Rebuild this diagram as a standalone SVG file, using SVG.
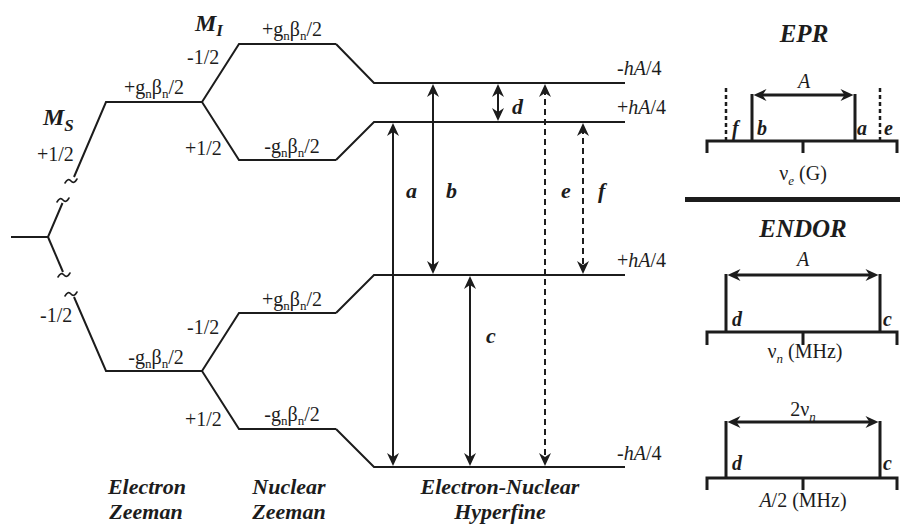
<svg xmlns="http://www.w3.org/2000/svg" width="905" height="526" viewBox="0 0 905 526" font-family="'Liberation Serif','Times New Roman',Tinos,'DejaVu Serif','Noto Serif',serif">
<style>
.ln{fill:none;stroke:#1c1c1c;stroke-width:2;stroke-linejoin:miter}
.tl{fill:none;stroke:#1c1c1c;stroke-width:1.6;stroke-linecap:round}
.ar{fill:none;stroke:#1c1c1c;stroke-width:2}
.dash{stroke-dasharray:6 4}
.sp{fill:none;stroke:#1c1c1c;stroke-width:3;stroke-linejoin:miter}
.dot{fill:none;stroke:#1c1c1c;stroke-width:2.5;stroke-dasharray:4 3}
text{font-family:'Liberation Serif','Times New Roman',Tinos,'DejaVu Serif','Noto Serif',serif;fill:#1c1c1c}
.r{font-size:20px}
.bi{font-weight:bold;font-style:italic}
.big{font-size:25px}
.cap{font-size:22px}
.lab{font-size:22px}
.sl{font-size:20px}
.it{font-style:italic}
.mid{text-anchor:middle}
</style>
<defs>
<marker id="ah" viewBox="-14 -7 15 14" refX="-5" refY="0" markerWidth="15" markerHeight="14" markerUnits="userSpaceOnUse" orient="auto-start-reverse">
<path d="M0,0 L-13,-6 L-9,0 L-13,6 Z" fill="#1c1c1c"/>
</marker>
<path id="tilde" d="M-6,2 Q-3,-3.5 0,0 T6,-2"/>
</defs>

<g id="electron-zeeman">
<path class="ln" d="M11,237 H48 L62.5,203"/>
<path class="ln" d="M74,177 L106,102 H202"/>
<path class="ln" d="M48,237 L63,272"/>
<path class="ln" d="M74,297 L106,371 H202"/>
<use href="#tilde" class="tl" x="71" y="181"/>
<use href="#tilde" class="tl" x="63" y="200"/>
<use href="#tilde" class="tl" x="64" y="275"/>
<use href="#tilde" class="tl" x="71" y="294"/>
<text class="bi" x="43" y="125" font-size="24">M<tspan dy="6" font-size="17">S</tspan></text>
<text class="r" x="37" y="161">+1/2</text>
<text class="r" x="40" y="322">-1/2</text>
<text class="r mid" x="154" y="94">+g<tspan dy="4" font-size="13">n</tspan><tspan dy="-4">β</tspan><tspan dy="4" font-size="13">n</tspan><tspan dy="-4">/2</tspan></text>
<text class="r mid" x="156" y="364">-g<tspan dy="4" font-size="13">n</tspan><tspan dy="-4">β</tspan><tspan dy="4" font-size="13">n</tspan><tspan dy="-4">/2</tspan></text>
<text class="bi cap mid" x="147" y="494">Electron</text>
<text class="bi cap mid" x="146" y="519">Zeeman</text>
</g>

<g id="nuclear-zeeman">
<path class="ln" d="M202,102 L239,44 H336"/>
<path class="ln" d="M202,102 L239,160 H336"/>
<path class="ln" d="M202,371 L239,313 H336"/>
<path class="ln" d="M202,371 L239,429 H336"/>
<text class="bi" x="195" y="31" font-size="24">M<tspan dy="5" font-size="17">I</tspan></text>
<text class="r" x="187" y="64">-1/2</text>
<text class="r" x="185" y="155">+1/2</text>
<text class="r" x="187" y="334">-1/2</text>
<text class="r" x="185" y="426">+1/2</text>
<text class="r mid" x="292" y="36">+g<tspan dy="4" font-size="13">n</tspan><tspan dy="-4">β</tspan><tspan dy="4" font-size="13">n</tspan><tspan dy="-4">/2</tspan></text>
<text class="r mid" x="292" y="153">-g<tspan dy="4" font-size="13">n</tspan><tspan dy="-4">β</tspan><tspan dy="4" font-size="13">n</tspan><tspan dy="-4">/2</tspan></text>
<text class="r mid" x="292" y="306">+g<tspan dy="4" font-size="13">n</tspan><tspan dy="-4">β</tspan><tspan dy="4" font-size="13">n</tspan><tspan dy="-4">/2</tspan></text>
<text class="r mid" x="292" y="421">-g<tspan dy="4" font-size="13">n</tspan><tspan dy="-4">β</tspan><tspan dy="4" font-size="13">n</tspan><tspan dy="-4">/2</tspan></text>
<text class="bi cap mid" x="289" y="494">Nuclear</text>
<text class="bi cap mid" x="289" y="519">Zeeman</text>
</g>

<g id="hyperfine-levels">
<path class="ln" d="M336,44 L374,83 H625"/>
<path class="ln" d="M336,160 L374,122 H625"/>
<path class="ln" d="M336,313 L374,275 H625"/>
<path class="ln" d="M336,429 L374,467 H625"/>
<text class="r" x="617" y="75">-<tspan class="it">hA</tspan>/4</text>
<text class="r" x="617" y="114">+<tspan class="it">hA</tspan>/4</text>
<text class="r" x="617" y="267">+<tspan class="it">hA</tspan>/4</text>
<text class="r" x="617" y="460">-<tspan class="it">hA</tspan>/4</text>
<text class="bi cap mid" x="500" y="494">Electron-Nuclear</text>
<text class="bi cap mid" x="500" y="519">Hyperfine</text>
</g>

<g id="connectors">
<line class="ar" x1="393" y1="128" x2="393" y2="461" marker-start="url(#ah)" marker-end="url(#ah)"/>
<line class="ar" x1="433" y1="89" x2="433" y2="269" marker-start="url(#ah)" marker-end="url(#ah)"/>
<line class="ar" x1="498" y1="89" x2="498" y2="116" marker-start="url(#ah)" marker-end="url(#ah)"/>
<line class="ar" x1="470" y1="281" x2="470" y2="461" marker-start="url(#ah)" marker-end="url(#ah)"/>
<line class="ar dash" x1="545" y1="89" x2="545" y2="461" marker-start="url(#ah)" marker-end="url(#ah)"/>
<line class="ar dash" x1="583" y1="128" x2="583" y2="269" marker-start="url(#ah)" marker-end="url(#ah)"/>
<text class="bi lab" x="406" y="198">a</text>
<text class="bi lab" x="446" y="198">b</text>
<text class="bi lab" x="486" y="343">c</text>
<text class="bi lab" x="512" y="114">d</text>
<text class="bi lab" x="561" y="198">e</text>
<text class="bi lab" x="598" y="198">f</text>
</g>

<g id="epr-panel">
<text class="bi big mid" x="804" y="42">EPR</text>
<path class="sp" d="M707,153 V141 H897 V153 M803,141 V153"/>
<path class="sp" d="M752,141 V94 M855,141 V94"/>
<path class="dot" d="M726,141 V86 M880,141 V86"/>
<line class="sp" x1="758.5" y1="95" x2="848.5" y2="95" marker-start="url(#ah)" marker-end="url(#ah)"/>
<text class="r it mid" x="804" y="88">A</text>
<text class="bi sl" x="732" y="135">f</text>
<text class="bi sl" x="757" y="135">b</text>
<text class="bi sl" x="857" y="135">a</text>
<text class="bi sl" x="884" y="135">e</text>
<text class="r mid" x="803" y="180">ν<tspan class="it" dy="5" font-size="13">e</tspan><tspan dy="-5"> (G)</tspan></text>
</g>

<rect id="separator" x="685" y="197" width="215" height="5" fill="#1c1c1c"/>

<g id="endor-panel-hyperfine">
<text class="bi big mid" x="803" y="237">ENDOR</text>
<text class="r it mid" x="803" y="266">A</text>
<path class="sp" d="M726,332 V274 M880,332 V274"/>
<line class="sp" x1="732.5" y1="275" x2="873.5" y2="275" marker-start="url(#ah)" marker-end="url(#ah)"/>
<path class="sp" d="M707,345 V332 H897 V345 M803,332 V345"/>
<text class="bi sl" x="732" y="326">d</text>
<text class="bi sl" x="883" y="326">c</text>
<text class="r mid" x="805" y="358">ν<tspan class="it" dy="5" font-size="13">n</tspan><tspan dy="-5"> (MHz)</tspan></text>
</g>

<g id="endor-panel-larmor">
<text class="r mid" x="803" y="416">2ν<tspan class="it" dy="5" font-size="13">n</tspan></text>
<path class="sp" d="M726,478 V421 M880,478 V421"/>
<line class="sp" x1="732.5" y1="422" x2="873.5" y2="422" marker-start="url(#ah)" marker-end="url(#ah)"/>
<path class="sp" d="M707,490 V478 H897 V490 M803,478 V490"/>
<text class="bi sl" x="732" y="470">d</text>
<text class="bi sl" x="883" y="470">c</text>
<text class="r mid" x="803" y="507"><tspan class="it">A</tspan>/2 (MHz)</text>
</g>
</svg>
